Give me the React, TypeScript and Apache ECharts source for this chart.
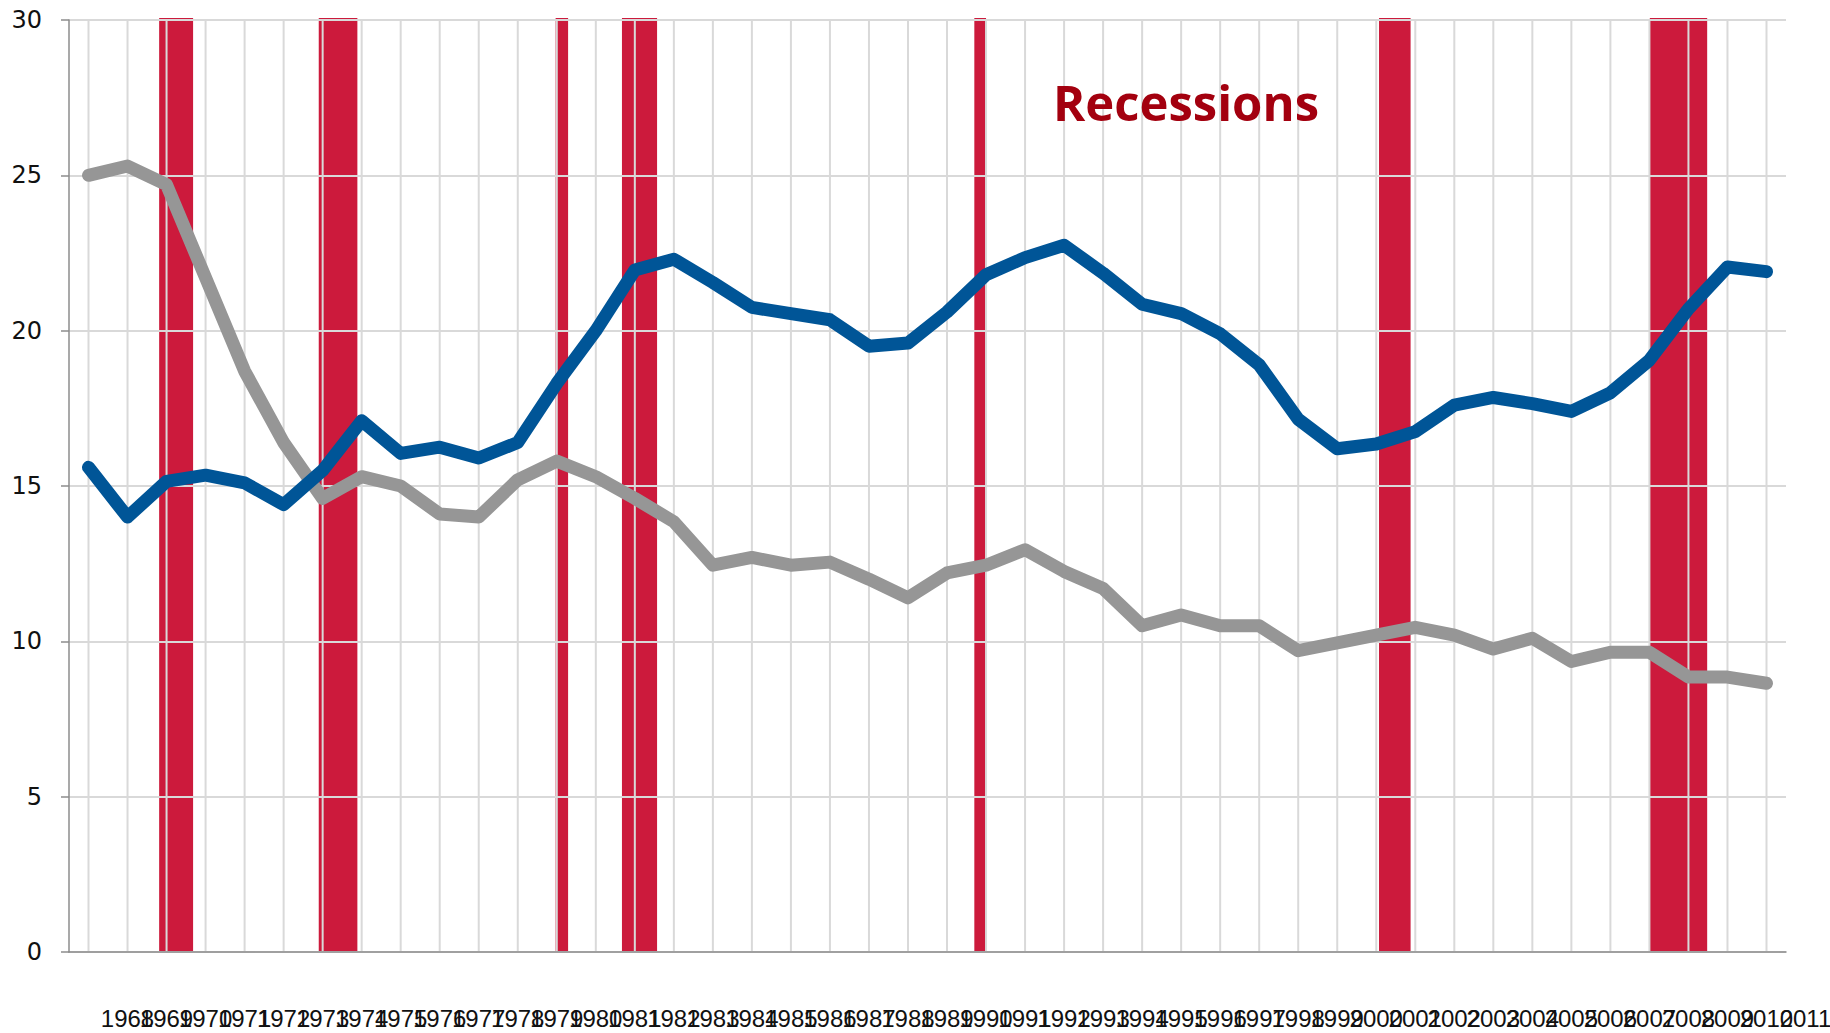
import React, { useEffect, useRef } from "react";
import * as echarts from "echarts";

const years: number[] = [];
for (let y = 1968; y <= 2011; y++) years.push(y);

const greyValues = [
  25.0, 25.3, 24.7, 21.7, 18.7, 16.4, 14.6, 15.3, 15.0, 14.1, 14.0, 15.2, 15.8, 15.3, 14.6,
  13.85, 12.45, 12.7, 12.45, 12.55, 12.0, 11.4, 12.2, 12.45, 12.95, 12.25, 11.7, 10.5, 10.85,
  10.5, 10.5, 9.7, 9.95, 10.2, 10.45, 10.2, 9.75, 10.1, 9.35, 9.65, 9.65, 8.85, 8.85, 8.65,
];

const blueValues = [
  15.6, 14.0, 15.15, 15.35, 15.1, 14.4, 15.5, 17.1, 16.05, 16.25, 15.9, 16.4, 18.3, 20.0, 21.95,
  22.3, 21.55, 20.75, 20.55, 20.35, 19.5, 19.6, 20.6, 21.8, 22.35, 22.75, 21.85, 20.85, 20.55,
  19.9, 18.9, 17.15, 16.2, 16.35, 16.75, 17.6, 17.85, 17.65, 17.4, 18.0, 19.05, 20.7, 22.05, 21.9,
];

// recession periods [start, end] in fractional years
const recessions: number[][] = [
  [1969.81, 1970.68],
  [1973.9, 1974.89],
  [1979.97, 1980.29],
  [1981.67, 1982.57],
  [1990.7, 1991.0],
  [2001.07, 2001.88],
  [2008.01, 2009.48],
];

const yTicks = { min: 0, max: 30, interval: 5 };
const titleText = "Recessions";

export default function App() {
  const ref = useRef<HTMLDivElement>(null);
  useEffect(() => {
    if (!ref.current) return;
    const chart = echarts.init(ref.current, null, { renderer: "svg" });
    const xMin = years[0] - 0.5;
    const xMax = years[years.length - 1] + 0.5;
    const option: any = {
      animation: false,
      backgroundColor: "#ffffff",
      grid: { left: 69, right: 44, top: 20, bottom: 81, containLabel: false, outerBoundsMode: "none" },
      xAxis: [
        {
          type: "value",
          min: xMin,
          max: xMax,
          show: false,
          splitLine: { show: false },
        },
        {
          type: "category",
          position: "bottom",
          data: years.map(String),
          boundaryGap: true,
          z: 3,
          axisLine: { show: true, lineStyle: { color: "#8c8c8c", width: 1.5 } },
          axisTick: { show: false },
          splitLine: { show: false },
          axisLabel: {
            interval: 0,
            margin: 54,
            padding: [0, 0, 0, 78],
            fontSize: 24,
            fontFamily: "Liberation Sans",
            color: "#111111",
          },
        },
      ],
      yAxis: {
        type: "value",
        min: yTicks.min,
        max: yTicks.max,
        interval: yTicks.interval,
        z: 3,
        axisLine: { show: true, lineStyle: { color: "#8c8c8c", width: 1.5 } },
        axisTick: { show: true, inside: false, length: 8, lineStyle: { color: "#8c8c8c", width: 1.5 } },
        splitLine: { show: true, lineStyle: { color: "#d9d9d9", width: 2 } },
        axisLabel: { margin: 27, fontSize: 24, fontFamily: "DejaVu Sans", color: "#111111" },
      },
      graphic: [
        {
          type: "text",
          x: 1053,
          y: 102,
          z: 20,
          style: {
            text: titleText,
            fontSize: 49,
            fontWeight: "bold",
            fontFamily: "Open Sans",
            fill: "#a3000f",
            verticalAlign: "middle",
            align: "left",
          },
        },
      ],
      series: [
        {
          name: "recessions",
          type: "custom",
          xAxisIndex: 0,
          z: 1,
          silent: true,
          data: recessions,
          encode: { x: [0, 1] },
          renderItem: (params: any, api: any) => {
            const s = api.value(0);
            const e = api.value(1);
            const p0 = api.coord([s, yTicks.max]);
            const p1 = api.coord([e, yTicks.min]);
            return {
              type: "rect",
              shape: { x: p0[0], y: p0[1] - 2, width: p1[0] - p0[0], height: p1[1] - p0[1] + 2 },
              style: { fill: "#cc1a3c" },
            };
          },
        },
        {
          name: "vgrid",
          type: "custom",
          xAxisIndex: 0,
          z: 3,
          silent: true,
          data: years.map((y) => [y]),
          encode: { x: 0 },
          renderItem: (params: any, api: any) => {
            const x = api.value(0);
            const p0 = api.coord([x, yTicks.max]);
            const p1 = api.coord([x, yTicks.min]);
            return {
              type: "line",
              shape: { x1: p0[0], y1: p0[1], x2: p1[0], y2: p1[1] },
              style: { stroke: "#d9d9d9", lineWidth: 2 },
            };
          },
        },
        {
          name: "grey",
          type: "line",
          xAxisIndex: 0,
          z: 10,
          showSymbol: false,
          symbol: "none",
          data: years.map((y, i) => [y, greyValues[i]]),
          lineStyle: { color: "#969696", width: 13, cap: "round", join: "round" },
        },
        {
          name: "blue",
          type: "line",
          xAxisIndex: 0,
          z: 11,
          showSymbol: false,
          symbol: "none",
          data: years.map((y, i) => [y, blueValues[i]]),
          lineStyle: { color: "#005597", width: 13, cap: "round", join: "round" },
        },
      ],
    };
    chart.setOption(option);
    return () => chart.dispose();
  }, []);
  return (
    <div
      ref={ref}
      style={{ position: "fixed", left: 0, top: 0, width: 1830, height: 1033, background: "#fff" }}
    />
  );
}
